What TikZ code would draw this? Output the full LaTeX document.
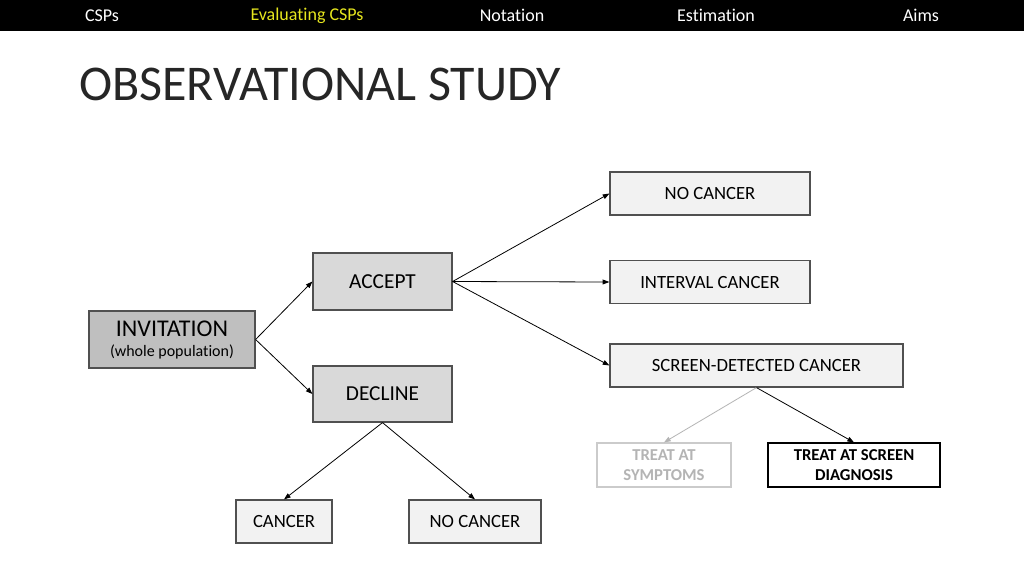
\documentclass[tikz,border=0pt]{standalone}
\usepackage{fontspec}
\setmainfont{Carlito}[Ligatures=NoCommon]
\definecolor{hdryellow}{RGB}{230,230,30}
\definecolor{boxline}{RGB}{80,80,80}
\definecolor{boxdark}{RGB}{191,191,191}
\definecolor{boxmid}{RGB}{217,217,217}
\definecolor{boxlight}{RGB}{242,242,242}
\definecolor{faded}{RGB}{180,180,180}
\usetikzlibrary{arrows.meta}

\begin{document}
\begin{tikzpicture}[x=0.75pt, y=-0.75pt,
        box/.style={rectangle, draw=boxline, line width=0.9pt, align=center,
                    inner sep=2pt, font=\fontsize{14}{16}\selectfont},
        arr/.style={-{Triangle[length=5pt, width=3.6pt]}, line width=0.6pt},
        hdr/.style={font=\fontsize{13.5}{15}\selectfont, white}
      ]
        \useasboundingbox (0,0) rectangle (1024,576);
        \fill[white] (0,0) rectangle (1024,576);

        % header bar
        \fill[black] (0,0) rectangle (1024,31);
        \node[hdr] (h1) at (102,15.5) {CSPs};
        \node[hdr, text=hdryellow] (h2) at (307,15.5) {Evaluating CSPs};
        \node[hdr] (h3) at (512,15.5) {Notation};
        \node[hdr] (h4) at (716,15.5) {Estimation};
        \node[hdr] (h5) at (921,15.5) {Aims};

        % title
        \node[anchor=west, inner sep=0pt, font=\fontsize{37.5}{40}\selectfont, text=black!85]
          (title) at (79,84) {OBSERVATIONAL STUDY};

        % invitation and response
        \node[box, fill=boxdark, minimum width=124.5pt, minimum height=42.75pt]
          (inv) at (172,339.5) {{\fontsize{18}{19}\selectfont INVITATION}\\[-1pt]
                                {\fontsize{12}{13}\selectfont (whole population)}};
        \node[box, fill=boxmid, minimum width=104.25pt, minimum height=42.75pt,
              font=\fontsize{16}{18}\selectfont] (acc) at (382.5,281.5) {ACCEPT};
        \node[box, fill=boxmid, minimum width=104.25pt, minimum height=42pt,
              font=\fontsize{16}{18}\selectfont] (dec) at (382.5,394) {DECLINE};
        \draw[arr] (inv.east) -- (acc.west);
        \draw[arr] (inv.east) -- (dec.west);

        % accepters
        \node[box, fill=boxlight, minimum width=150pt, minimum height=32.25pt]
          (nca) at (710,193.5) {NO CANCER};
        \node[box, fill=boxlight, minimum width=150pt, minimum height=32.25pt]
          (inc) at (710,282) {INTERVAL CANCER};
        \node[box, fill=boxlight, minimum width=219.75pt, minimum height=32.25pt]
          (scr) at (756.5,365.5) {SCREEN-DETECTED CANCER};
        \draw[arr] (acc.east) -- (nca.west);
        \draw[arr] (acc.east) -- (inc.west);
        \draw[arr] (acc.east) -- (scr.west);

        % screen-detected branch
        \node[box, draw=faded!70, text=faded, fill=white, font=\fontsize{12.5}{15}\selectfont\bfseries,
              minimum width=100.5pt, minimum height=33pt] (sym) at (664,465) {TREAT AT\\SYMPTOMS};
        \node[box, draw=black, fill=white, font=\fontsize{12.5}{15}\selectfont\bfseries,
              minimum width=129pt, minimum height=33pt] (dia) at (854,465) {TREAT AT SCREEN\\DIAGNOSIS};
        \draw[arr, faded] (scr.south) -- (sym.north);
        \draw[arr] (scr.south) -- (dia.north);

        % decliners
        \node[box, fill=boxlight, minimum width=72pt, minimum height=32.25pt]
          (dca) at (284,521.5) {CANCER};
        \node[box, fill=boxlight, minimum width=99pt, minimum height=32.25pt]
          (dnc) at (475,521.5) {NO CANCER};
        \draw[arr] (dec.south) -- (dca.north);
        \draw[arr] (dec.south) -- (dnc.north);
      \end{tikzpicture}
\end{document}
